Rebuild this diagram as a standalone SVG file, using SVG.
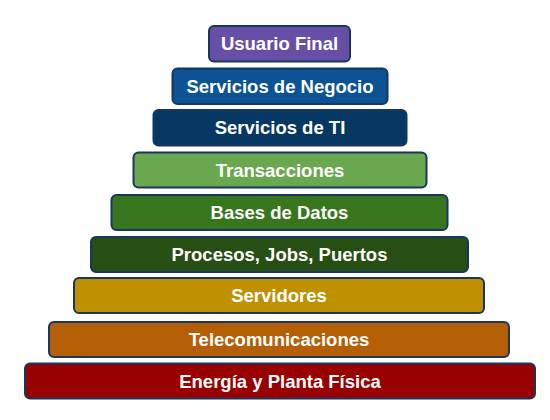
<svg xmlns="http://www.w3.org/2000/svg" width="550" height="420" viewBox="0 0 550 420">
<style>
.box{stroke:#17375e;stroke-width:2}
.lbl{font-family:"Liberation Sans",Arial,sans-serif;font-weight:bold;font-size:18.5px;fill:#ffffff;text-anchor:middle}
</style>
<rect width="550" height="420" fill="#ffffff"/>
<g id="usuario-final"><rect class="box" x="209" y="26" width="141" height="35.5" rx="5" fill="#674ea7"/><text class="lbl" x="279.5" y="50.3">Usuario Final</text></g>
<g id="servicios-negocio"><rect class="box" x="172.5" y="68.5" width="215" height="35.5" rx="5" fill="#0b5394"/><text class="lbl" x="280" y="92.8">Servicios de Negocio</text></g>
<g id="servicios-ti"><rect class="box" x="153.5" y="110" width="253" height="35.5" rx="5" fill="#073763"/><text class="lbl" x="280" y="134.3">Servicios de TI</text></g>
<g id="transacciones"><rect class="box" x="133.5" y="152.5" width="293" height="35" rx="5" fill="#6aa84f"/><text class="lbl" x="280" y="176.5">Transacciones</text></g>
<g id="bases-datos"><rect class="box" x="111.5" y="195" width="336" height="35" rx="5" fill="#38761d"/><text class="lbl" x="279.5" y="219">Bases de Datos</text></g>
<g id="procesos"><rect class="box" x="91" y="237" width="377" height="35" rx="5" fill="#274e13"/><text class="lbl" x="279.5" y="261">Procesos, Jobs, Puertos</text></g>
<g id="servidores"><rect class="box" x="74" y="278" width="410" height="35" rx="5" fill="#bf9000"/><text class="lbl" x="279" y="302">Servidores</text></g>
<g id="telecomunicaciones"><rect class="box" x="49" y="322" width="460" height="35" rx="5" fill="#b45f06"/><text class="lbl" x="279" y="346">Telecomunicaciones</text></g>
<g id="energia"><rect class="box" x="25" y="363.5" width="510" height="35" rx="5" fill="#990000"/><text class="lbl" x="280" y="387.5">Energía y Planta Física</text></g>
</svg>
